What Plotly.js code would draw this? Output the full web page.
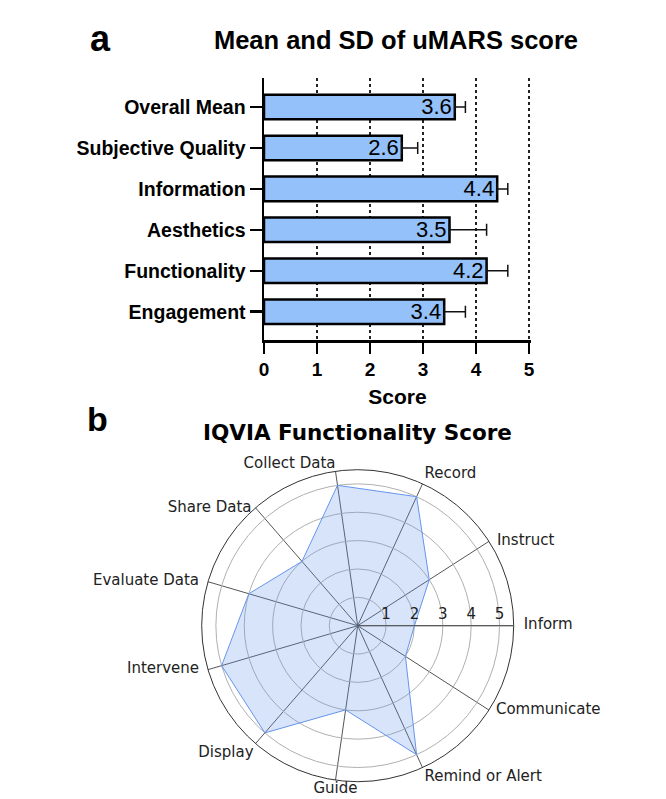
<!DOCTYPE html>
<html>
<head>
<meta charset="utf-8">
<script src="https://cdn.plot.ly/plotly-3.0.1.min.js"></script>
<style>
  html, body { margin: 0; padding: 0; background: #ffffff; }
  #chart { width: 666px; height: 799px; }
</style>
</head>
<body>
<div id="chart"></div>
<script>
// Panel a: uMARS subscale means with standard deviations (bottom to top)
const categories = ['Engagement', 'Functionality', 'Aesthetics', 'Information', 'Subjective Quality', 'Overall Mean'];
const meanScores = [3.4, 4.2, 3.5, 4.4, 2.6, 3.6];
const sdScores = [0.4, 0.4, 0.7, 0.2, 0.3, 0.2];
const scoreTicks = [0, 1, 2, 3, 4, 5];

// Panel b: IQVIA functionality scores, counter-clockwise from the right
const functions = ['Inform', 'Instruct', 'Record', 'Collect Data', 'Share Data', 'Evaluate Data',
                   'Intervene', 'Display', 'Guide', 'Remind or Alert', 'Communicate'];
const functionScores = [2, 3, 5, 5, 3, 4, 5, 5, 3, 5, 2];
const radialTicks = [1, 2, 3, 4, 5];

// Where each function name sits relative to the end of its spoke, and its gap (px) from the rim
const labelPlacement = ['middle right', 'middle right', 'top right', 'top left', 'middle left', 'middle left',
                        'middle left', 'bottom left', 'bottom center', 'bottom right', 'middle right'];
const labelGap = [10, 8, 2, 0, 4, 9, 9, 2, 2, 2, 7];

const W = 666, H = 799;
const px = x => x / W;            // pixel -> paper x
const py = y => 1 - y / H;        // pixel -> paper y

const ARIAL = 'Liberation Sans, Arial, sans-serif';
const DEJAVU = 'DejaVu Sans, sans-serif';
const RADIAL_MAX = 5.5;

const barTrace = {
  type: 'bar',
  orientation: 'h',
  y: categories,
  x: meanScores,
  width: 0.6,
  xaxis: 'x',
  yaxis: 'y',
  marker: { color: '#94c1f9', line: { color: '#000000', width: 2.5 } },
  text: meanScores.map(v => v.toFixed(1)),
  textposition: 'inside',
  insidetextanchor: 'end',
  constraintext: 'none',
  textfont: { family: ARIAL, size: 22, color: '#000000' },
  error_x: {
    type: 'data',
    symmetric: false,
    array: sdScores,
    arrayminus: sdScores.map(() => 0),
    color: '#111111',
    thickness: 1.5,
    width: 6
  },
  hoverinfo: 'skip',
  showlegend: false
};

const radarTrace = {
  type: 'scatterpolar',
  subplot: 'polar',
  r: functionScores.concat([functionScores[0]]),
  theta: functions.concat([functions[0]]),
  mode: 'lines',
  fill: 'toself',
  fillcolor: 'rgba(100,149,237,0.25)',
  line: { color: 'rgb(100,149,237)', width: 1 },
  hoverinfo: 'skip',
  showlegend: false
};

// Function names placed just outside the rim at each spoke; an invisible
// marker per name sets how far the text stands off the rim.
const spokeLabels = {
  type: 'scatterpolar',
  subplot: 'polar',
  r: functions.map(() => RADIAL_MAX),
  theta: functions,
  mode: 'markers+text',
  text: functions,
  textposition: labelPlacement,
  textfont: { family: DEJAVU, size: 15, color: '#222222' },
  marker: { size: labelGap.map(g => Math.max(0, (g - 1) * 1.6)), opacity: 0 },
  cliponaxis: false,
  hoverinfo: 'skip',
  showlegend: false
};

// score axis: 53 px per unit, a little slack on the right keeps the 5 grid line
const X0 = 264, X1 = 531, PX_PER_UNIT = 53;

const layout = {
  width: W,
  height: H,
  autosize: false,
  margin: { l: 0, r: 0, t: 0, b: 0 },
  paper_bgcolor: '#ffffff',
  plot_bgcolor: 'rgba(0,0,0,0)',
  font: { family: ARIAL, color: '#000000' },
  title: {
    text: 'Mean and SD of uMARS score',
    font: { family: ARIAL, size: 25.5, weight: 'bold', color: '#000000' },
    x: px(396), xanchor: 'center',
    y: py(40), yanchor: 'middle',
    xref: 'paper', yref: 'paper'
  },
  xaxis: {
    domain: [px(X0), px(X1)],
    anchor: 'y',
    range: [0, (X1 - X0) / PX_PER_UNIT],
    tickvals: scoreTicks,
    ticks: 'outside',
    ticklen: 11,
    tickwidth: 2.5,
    tickcolor: '#000000',
    showline: true,
    linecolor: '#000000',
    linewidth: 2.5,
    showgrid: true,
    gridcolor: '#222222',
    gridwidth: 1.6,
    griddash: '3px,3px',
    zeroline: false,
    automargin: false,
    fixedrange: true,
    tickfont: { family: ARIAL, size: 19, weight: 'bold', color: '#000000' },
    title: {
      text: 'Score',
      font: { family: ARIAL, size: 21, weight: 'bold', color: '#000000' },
      standoff: 10
    }
  },
  yaxis: {
    domain: [py(340), py(78.3)],
    anchor: 'x',
    type: 'category',
    categoryorder: 'array',
    categoryarray: categories,
    range: [-0.69, 5.7],
    ticks: 'outside',
    ticklen: 12,
    tickwidth: 2.5,
    tickcolor: '#000000',
    showline: true,
    linecolor: '#000000',
    linewidth: 2.5,
    showgrid: false,
    zeroline: false,
    automargin: false,
    fixedrange: true,
    tickfont: { family: ARIAL, size: 19.5, weight: 'bold', color: '#000000' }
  },
  polar: {
    domain: { x: [px(201.7), px(513.7)], y: [py(781.7), py(469.7)] },
    bgcolor: '#ffffff',
    radialaxis: {
      range: [0, RADIAL_MAX],
      tickvals: radialTicks,
      angle: 0,
      side: 'counterclockwise',
      showline: true,
      linecolor: '#555555',
      linewidth: 1,
      gridcolor: '#b0b0b0',
      gridwidth: 1,
      ticks: '',
      tickfont: { family: DEJAVU, size: 15, color: '#222222' }
    },
    angularaxis: {
      type: 'category',
      categoryorder: 'array',
      categoryarray: functions,
      direction: 'counterclockwise',
      rotation: 0,
      showline: true,
      linecolor: '#333333',
      linewidth: 1,
      gridcolor: '#555555',
      gridwidth: 1,
      ticks: '',
      showticklabels: false
    }
  },
  annotations: [
    {
      text: 'a', xref: 'paper', yref: 'paper',
      x: px(100), y: py(38), xanchor: 'center', yanchor: 'middle',
      showarrow: false,
      font: { family: ARIAL, size: 36, weight: 'bold', color: '#000000' }
    },
    {
      text: 'b', xref: 'paper', yref: 'paper',
      x: px(98), y: py(419), xanchor: 'center', yanchor: 'middle',
      showarrow: false,
      font: { family: ARIAL, size: 34, weight: 'bold', color: '#000000' }
    },
    {
      text: 'IQVIA Functionality Score', xref: 'paper', yref: 'paper',
      x: px(357), y: py(432), xanchor: 'center', yanchor: 'middle',
      showarrow: false,
      font: { family: DEJAVU, size: 21.5, weight: 'bold', color: '#000000' }
    }
  ]
};

Plotly.newPlot('chart', [barTrace, radarTrace, spokeLabels], layout, { staticPlot: true, displayModeBar: false });
</script>
</body>
</html>
